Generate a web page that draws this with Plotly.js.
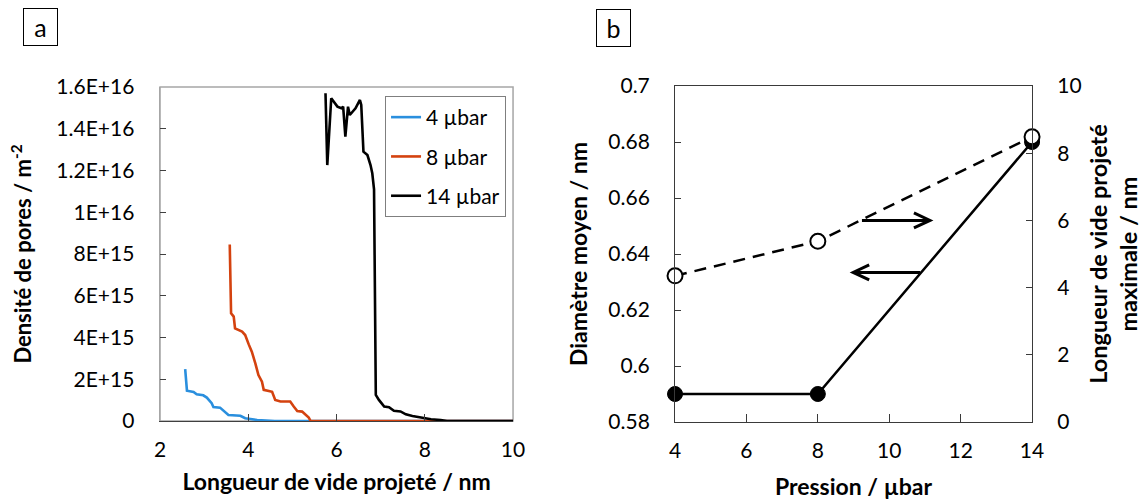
<!DOCTYPE html>
<html>
<head>
<meta charset="utf-8">
<script src="https://cdn.plot.ly/plotly-3.0.1.min.js"></script>
<style>html,body{margin:0;padding:0;background:#fff;}#chart{width:1148px;height:501px;}</style>
</head>
<body>
<div id="chart"></div>
<script>
// ---- Panel a: pore density vs projected void length ----
const seriesNames = ['4 µbar', '8 µbar', '14 µbar'];

const x4 = [2.57, 2.61, 2.76, 2.83, 2.98, 3.06, 3.17, 3.21, 3.36, 3.48, 3.55, 3.82, 3.93, 4.20, 4.42, 4.60, 10];
const y4 = [2.48e15, 1.45e15, 1.39e15, 1.28e15, 1.23e15, 1.12e15, 0.85e15, 0.67e15, 0.64e15, 0.40e15, 0.29e15, 0.25e15, 0.13e15, 0.05e15, 0.03e15, 0, 0];

const x8 = [3.58, 3.61, 3.67, 3.70, 3.86, 3.93, 4.01, 4.08, 4.16, 4.23, 4.31, 4.35, 4.54, 4.61, 4.73, 4.95, 5.03, 5.11, 5.22, 5.30, 5.37, 5.41, 10];
const y8 = [8.46e15, 5.16e15, 5.00e15, 4.44e15, 4.28e15, 4.12e15, 3.67e15, 3.32e15, 2.76e15, 2.20e15, 1.88e15, 1.49e15, 1.40e15, 1.01e15, 0.93e15, 0.93e15, 0.69e15, 0.48e15, 0.45e15, 0.29e15, 0.16e15, 0.01e15, 0];

const x14 = [5.75, 5.79, 5.88, 6.02, 6.11, 6.15, 6.20, 6.26, 6.30, 6.36, 6.43, 6.53, 6.56, 6.61, 6.70, 6.77, 6.81, 6.85, 6.89, 6.96, 7.08, 7.19, 7.30, 7.45, 7.57, 7.72, 7.87, 7.98, 8.14, 8.36, 8.50, 10];
const y14 = [15.70e15, 12.26e15, 15.46e15, 15.06e15, 14.98e15, 15.06e15, 13.62e15, 15.06e15, 14.66e15, 14.82e15, 14.98e15, 15.38e15, 15.14e15, 12.90e15, 12.74e15, 12.26e15, 11.87e15, 11.10e15, 1.25e15, 1.01e15, 0.69e15, 0.66e15, 0.49e15, 0.46e15, 0.32e15, 0.24e15, 0.18e15, 0.13e15, 0.08e15, 0.05e15, 0, 0];

const yTickVals = [0, 2e15, 4e15, 6e15, 8e15, 1e16, 1.2e16, 1.4e16, 1.6e16];
const yTickText = ['0', '2E+15', '4E+15', '6E+15', '8E+15', '1E+16', '1.2E+16', '1.4E+16', '1.6E+16'];

// ---- Panel b: mean diameter and max projected void length vs pressure ----
const pression = [4, 8, 14];
const diametreMoyen = [0.59, 0.59, 0.68];
const longueurMax = [4.35, 5.38, 8.49];

const FONT = 'Lato, "Open Sans", sans-serif';
const colors = ['#2a8fde', '#d4420f', '#000000'];

const traces = [
  {x: x4, y: y4, name: seriesNames[0], type: 'scatter', mode: 'lines', line: {color: colors[0], width: 2.6}, xaxis: 'x', yaxis: 'y', legendgroup: 'g1'},
  {x: x8, y: y8, name: seriesNames[1], type: 'scatter', mode: 'lines', line: {color: colors[1], width: 2.6}, xaxis: 'x', yaxis: 'y', legendgroup: 'g2'},
  {x: x14, y: y14, name: seriesNames[2], type: 'scatter', mode: 'lines', line: {color: colors[2], width: 2.6}, xaxis: 'x', yaxis: 'y', legendgroup: 'g3'},
  {x: pression, y: diametreMoyen, name: 'Diamètre moyen', type: 'scatter', mode: 'lines+markers', showlegend: false, cliponaxis: false,
   line: {color: '#000', width: 2.5}, marker: {size: 15, color: '#000', line: {color: '#000', width: 1}}, xaxis: 'x2', yaxis: 'y2'},
  {x: pression, y: longueurMax, name: 'Longueur de vide projeté maximale', type: 'scatter', mode: 'lines+markers', showlegend: false, cliponaxis: false,
   line: {color: '#000', width: 2.5, dash: '12px,8px'}, marker: {size: 15, color: '#fff', line: {color: '#000', width: 2}}, xaxis: 'x2', yaxis: 'y3'}
];

const tickFont = {family: FONT, size: 21, color: '#000'};
const titleFont = (s) => ({family: FONT, size: s, color: '#000', weight: 'bold'});

const layout = {
  width: 1148, height: 501,
  margin: {l: 0, r: 0, t: 0, b: 0},
  paper_bgcolor: '#fff', plot_bgcolor: 'rgba(0,0,0,0)',
  font: {family: FONT, size: 21, color: '#000'},
  showlegend: true,
  legend: {
    x: 0.3354, y: 0.8084, xanchor: 'left', yanchor: 'top',
    bordercolor: '#7f7f7f', borderwidth: 1, bgcolor: '#fff',
    font: {family: FONT, size: 21, color: '#000'},
    tracegroupgap: 9, itemwidth: 30
  },
  xaxis: {
    domain: [0.1394, 0.4469], anchor: 'y', range: [2, 10], tickvals: [2, 4, 6, 8, 10],
    showline: true, linecolor: '#404040', linewidth: 1, mirror: false,
    ticks: 'inside', ticklen: 7, tickcolor: '#404040', showgrid: false, zeroline: false,
    tickfont: tickFont, ticklabelstandoff: 10,
    title: {text: 'Longueur de vide projeté / nm', font: titleFont(23), standoff: 13}
  },
  yaxis: {
    domain: [0.1597, 0.8263], anchor: 'x', range: [0, 1.6e16], tickvals: yTickVals, ticktext: yTickText,
    showline: true, linecolor: '#a6a6a6', linewidth: 1.5, mirror: false,
    ticks: 'inside', ticklen: 6, tickcolor: '#404040', showgrid: false, zeroline: false,
    tickfont: tickFont, ticklabelstandoff: 20,
    title: {text: 'Densité de pores / m<sup>-2</sup>', font: titleFont(22), standoff: 18}
  },
  xaxis2: {
    domain: [0.588, 0.899], anchor: 'y2', range: [4, 14], tickvals: [4, 6, 8, 10, 12, 14],
    showline: true, linecolor: '#3a3a3a', linewidth: 1, mirror: true,
    ticks: 'inside', ticklen: 8, tickcolor: '#3a3a3a', showgrid: false, zeroline: false,
    tickfont: tickFont, ticklabelstandoff: 10,
    title: {text: 'Pression / µbar', font: titleFont(23), standoff: 17}
  },
  yaxis2: {
    domain: [0.1577, 0.8283], anchor: 'x2', range: [0.58, 0.7], dtick: 0.02, tick0: 0.58,
    showline: true, linecolor: '#3a3a3a', linewidth: 1, mirror: false,
    ticks: 'inside', ticklen: 6, tickcolor: '#3a3a3a', showgrid: false, zeroline: false,
    tickfont: tickFont, ticklabelstandoff: 20,
    title: {text: 'Diamètre moyen / nm', font: titleFont(23), standoff: 14}
  },
  yaxis3: {
    domain: [0.1577, 0.8283], anchor: 'x2', overlaying: 'y2', side: 'right', range: [0, 10], dtick: 2,
    showline: true, linecolor: '#3a3a3a', linewidth: 1,
    ticks: 'inside', ticklen: 6, tickcolor: '#3a3a3a', showgrid: false, zeroline: false,
    tickfont: tickFont, ticklabelstandoff: 20,
    title: {text: 'Longueur de vide projeté<br>maximale / nm', font: titleFont(23.5), standoff: 9}
  },
  shapes: [
    {type: 'rect', xref: 'x domain', yref: 'y domain', x0: 0, x1: 1, y0: 0, y1: 1,
     line: {color: '#a6a6a6', width: 1.5}, fillcolor: 'rgba(0,0,0,0)', layer: 'below'},
    // arrow pointing to right axis
    {type: 'path', xref: 'x2', yref: 'y3', xsizemode: 'pixel', ysizemode: 'pixel', xanchor: 11.14, yanchor: 6.0,
     path: 'M -68 0 L 0 0 M -16 -7.5 L 0 0 L -16 7.5', line: {color: '#000', width: 3}},
    // arrow pointing to left axis
    {type: 'path', xref: 'x2', yref: 'y2', xsizemode: 'pixel', ysizemode: 'pixel', xanchor: 8.99, yanchor: 0.6334,
     path: 'M 67 0 L 0 0 M 16 -7.5 L 0 0 L 16 7.5', line: {color: '#000', width: 3}}
  ],
  annotations: [
    {text: 'a', xref: 'paper', yref: 'paper', x: 40.5 / 1148, y: 1 - 27 / 501, xanchor: 'center', yanchor: 'middle',
     showarrow: false, font: {family: FONT, size: 25, color: '#000'}, width: 33, height: 36, bordercolor: '#000', borderwidth: 1, borderpad: 0},
    {text: 'b', xref: 'paper', yref: 'paper', x: 613 / 1148, y: 1 - 28 / 501, xanchor: 'center', yanchor: 'middle',
     showarrow: false, font: {family: FONT, size: 25, color: '#000'}, width: 33, height: 36, bordercolor: '#000', borderwidth: 1, borderpad: 0}
  ]
};

Plotly.newPlot('chart', traces, layout, {displayModeBar: false, staticPlot: true});
</script>
</body>
</html>
